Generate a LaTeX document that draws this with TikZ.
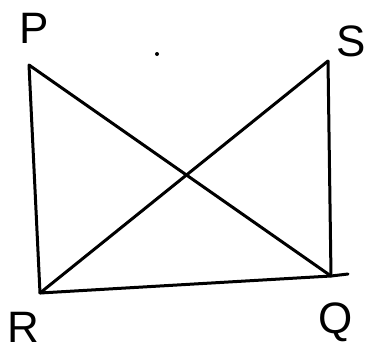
\documentclass[tikz,border=0pt]{standalone}
\usepackage{fontspec}
\setmainfont{Liberation Sans}
\begin{document}
\begin{tikzpicture}[x=1pt,y=-1pt,
  edge/.style={line width=3pt,line cap=round,line join=round},
  lbl/.style={font=\fontsize{44}{44}\selectfont,inner sep=0pt}]
\useasboundingbox (0,0) rectangle (366,351);
\coordinate (P) at (29,65);
\coordinate (S) at (328,61);
\coordinate (R) at (40,293);
\coordinate (Q) at (331,276);
\coordinate (Qe) at (348,274);
\draw[edge] (P) -- (R);
\draw[edge] (P) -- (Q);
\draw[edge] (S) -- (R);
\draw[edge] (S) -- (Q);
\draw[edge] (R) -- (Q) -- (Qe);
\fill (157,54) circle (2);
\node[lbl] (lP) at (34,28) {P};
\node[lbl] (lS) at (351,41) {S};
\node[lbl] (lR) at (23,327) {R};
\node[lbl] (lQ) at (336,322) {Q};
\end{tikzpicture}
\end{document}
